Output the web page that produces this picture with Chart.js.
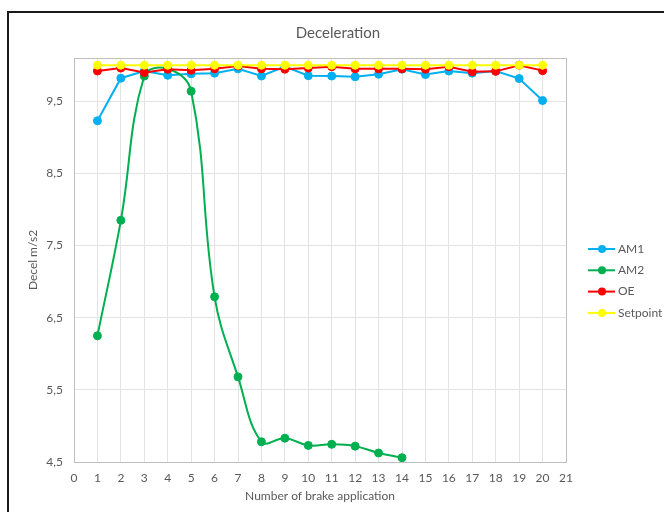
<!DOCTYPE html>
<html>
<head>
<meta charset="utf-8">
<script src="https://cdn.jsdelivr.net/npm/chart.js@4/dist/chart.umd.min.js"></script>
<style>
body { margin: 0; background: #fff; overflow: hidden; }
#moldura { position: absolute; left: 7px; top: 11px; width: 680px; height: 540px; border: 2px solid #1a1a1a; }
#chartDecel { position: absolute; left: 0; top: 0; }
</style>
</head>
<body>
<div id="moldura"></div>
<canvas id="chartDecel" width="664" height="512"></canvas>
<script>
var aplicacoes = [1, 2, 3, 4, 5, 6, 7, 8, 9, 10, 11, 12, 13, 14, 15, 16, 17, 18, 19, 20];
var am1 = [9.23, 9.82, 9.92, 9.86, 9.88, 9.89, 9.95, 9.85, 9.98, 9.855, 9.85, 9.84, 9.875, 9.945, 9.87, 9.92, 9.89, 9.92, 9.815, 9.51];
var am2 = [6.25, 7.85, 9.85, 9.95, 9.64, 6.79, 5.68, 4.78, 4.83, 4.73, 4.745, 4.72, 4.625, 4.56];
var oe = [9.92, 9.96, 9.90, 9.945, 9.93, 9.95, 9.99, 9.95, 9.945, 9.96, 9.98, 9.95, 9.95, 9.95, 9.945, 9.98, 9.91, 9.915, 10.0, 9.925];
var setpoint = [10, 10, 10, 10, 10, 10, 10, 10, 10, 10, 10, 10, 10, 10, 10, 10, 10, 10, 10, 10];
var ticksY = [4.5, 5.5, 6.5, 7.5, 8.5, 9.5];
var ticksX = [0, 1, 2, 3, 4, 5, 6, 7, 8, 9, 10, 11, 12, 13, 14, 15, 16, 17, 18, 19, 20, 21];

var corTexto = '#595959';
var fonte = 'Lato, "Open Sans", sans-serif';

function pontos(valores) {
    var lista = [];
    for (var i = 0; i < valores.length; i++) {
        lista[i] = { x: aplicacoes[i], y: valores[i] };
    }
    return lista;
}

function serie(label, valores, cor, ordem, tensao) {
    return {
        label: label,
        data: pontos(valores),
        borderColor: cor,
        backgroundColor: cor,
        borderWidth: 2,
        pointRadius: 4,
        pointBorderWidth: 1,
        tension: tensao,
        order: ordem
    };
}

// titulo, legenda e moldura da area de plotagem
var extras = {
    id: 'extras',
    beforeDatasetsDraw: function (chart) {
        var ctx = chart.ctx;
        var a = chart.chartArea;
        ctx.save();
        ctx.strokeStyle = '#bfbfbf';
        ctx.lineWidth = 1;
        ctx.strokeRect(a.left + 0.5, a.top + 0.5, a.right - a.left, a.bottom - a.top);
        ctx.restore();
    },
    afterDraw: function (chart) {
        var ctx = chart.ctx;
        ctx.save();
        ctx.fillStyle = corTexto;
        ctx.font = '15px ' + fonte;
        ctx.textAlign = 'center';
        ctx.textBaseline = 'middle';
        ctx.fillText('Deceleration', 338, 33);

        var ordemLegenda = [0, 1, 2, 3];
        for (var i = 0; i < ordemLegenda.length; i++) {
            var ds = chart.data.datasets[ordemLegenda[i]];
            var y = 249 + i * 21.3;
            ctx.strokeStyle = ds.borderColor;
            ctx.lineWidth = 2;
            ctx.beginPath();
            ctx.moveTo(588, y);
            ctx.lineTo(615, y);
            ctx.stroke();
            ctx.fillStyle = ds.backgroundColor;
            ctx.beginPath();
            ctx.arc(602, y, 4, 0, Math.PI * 2);
            ctx.fill();
            ctx.fillStyle = corTexto;
            ctx.font = '12px ' + fonte;
            ctx.textAlign = 'left';
            ctx.fillText(ds.label, 618, y);
        }
        ctx.restore();
    }
};

const config = {
    type: 'line',
    data: {
        datasets: [
            serie('AM1', am1, '#00b0f0', 3, 0),
            serie('AM2', am2, '#00b050', 2, 0.4),
            serie('OE', oe, '#ff0000', 1, 0),
            serie('Setpoint', setpoint, '#ffff00', 0, 0)
        ]
    },
    options: {
        responsive: false,
        animation: false,
        layout: { padding: { left: 12, right: 98, top: 58, bottom: 0 } },
        plugins: {
            legend: { display: false },
            title: { display: false },
            tooltip: { enabled: false }
        },
        scales: {
            x: {
                type: 'linear',
                min: 0,
                max: 21,
                afterBuildTicks: function (scale) {
                    scale.ticks = ticksX.map(function (v) { return { value: v }; });
                },
                afterFit: function (scale) { scale.height = 50; },
                grid: { color: '#e3e3e3', drawTicks: false },
                border: { color: '#bfbfbf' },
                ticks: {
                    color: corTexto,
                    padding: 9,
                    font: { family: fonte, size: 12 },
                    callback: function (v) { return v; }
                },
                title: {
                    display: true,
                    text: 'Number of brake application',
                    color: corTexto,
                    font: { family: fonte, size: 12 },
                    padding: { top: 0, bottom: 9 }
                }
            },
            y: {
                min: 4.5,
                max: 10.1,
                afterBuildTicks: function (scale) {
                    scale.ticks = ticksY.map(function (v) { return { value: v }; });
                },
                afterFit: function (scale) { scale.width = 62; },
                grid: { color: '#e3e3e3', drawTicks: false },
                border: { color: '#bfbfbf' },
                ticks: {
                    color: corTexto,
                    padding: 11,
                    font: { family: fonte, size: 12 },
                    callback: function (v) { return String(v).replace('.', ','); }
                },
                title: {
                    display: true,
                    text: 'Decel m/s2',
                    color: corTexto,
                    font: { family: fonte, size: 12 },
                    padding: { top: 14, bottom: 0 }
                }
            }
        }
    },
    plugins: [extras]
};

new Chart(
    document.getElementById('chartDecel'),
    config
);
</script>
</body>
</html>
